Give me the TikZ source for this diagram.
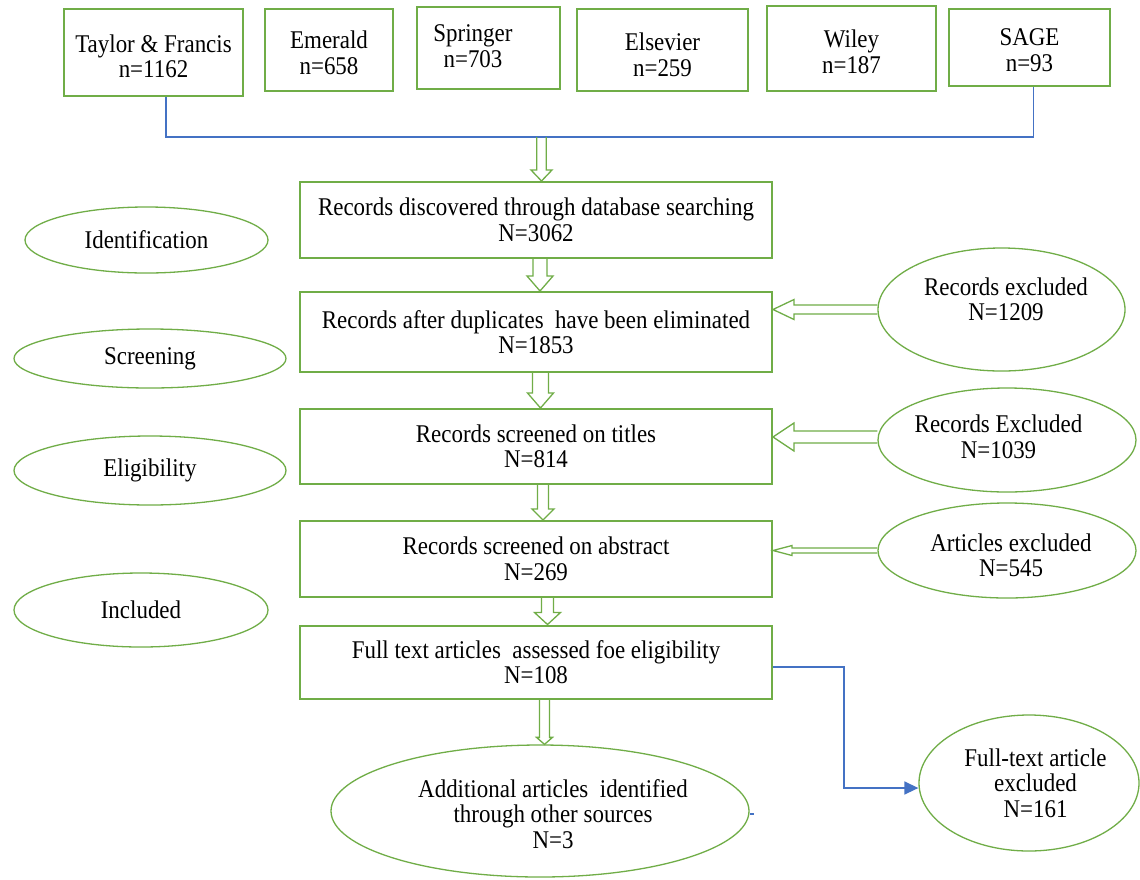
\documentclass[tikz,border=0pt]{standalone}
\usepackage{fontspec}
\setmainfont{Liberation Serif}[FakeStretch=0.9]
\usetikzlibrary{shapes.geometric,arrows.meta,calc}
\definecolor{grn}{HTML}{70AD47}
\definecolor{blu}{HTML}{4472C4}
% vertical block arrow: from, to, xoffset, shaft half width, head half width, head length
\newcommand{\vblk}[6]{%
 \draw[blkarrow] ([xshift=#3-#4]#1) -- ([xshift=#3-#4,yshift=#6]#1 |- #2) -- ([xshift=#3-#5,yshift=#6]#1 |- #2) -- ([xshift=#3]#1 |- #2) -- ([xshift=#3+#5,yshift=#6]#1 |- #2) -- ([xshift=#3+#4,yshift=#6]#1 |- #2) -- ([xshift=#3+#4]#1);}
% horizontal (leftward) block arrow: from ellipse, to box, yoffset, shaft half, head half, head length
\newcommand{\hblk}[6]{%
 \draw[blkarrow] ([yshift=#3+#4]#1.west) -- ([xshift=#6,yshift=#3+#4]#2.east |- #1.west) -- ([xshift=#6,yshift=#3+#5]#2.east |- #1.west) -- ([yshift=#3]#2.east |- #1.west) -- ([xshift=#6,yshift=#3-#5]#2.east |- #1.west) -- ([xshift=#6,yshift=#3-#4]#2.east |- #1.west) -- ([yshift=#3-#4]#1.west);}
\begin{document}
\begin{tikzpicture}[x=1pt,y=-1pt, font=\fontsize{25.5}{25.5}\selectfont,
 pub/.style={draw=grn, line width=2pt, rectangle, inner sep=0pt},
 stage/.style={draw=grn, line width=2pt, inner sep=2pt, minimum width=472pt, align=center},
 oval/.style={draw=grn, line width=1.3pt, ellipse, inner sep=0pt, align=center},
 blkarrow/.style={draw=grn, line width=1.3pt},
 blueline/.style={draw=blu, line width=1.5pt},
 txt/.style={align=center}]
\fill[white] (0,0) rectangle (1140,879);
\useasboundingbox (0,0) rectangle (1140,879);

% publisher boxes
\node[pub, minimum width=179pt, minimum height=87pt, label={[txt,yshift=-4pt]center:Taylor \& Francis\\n=1162}] (tf) at (153.5,52.5) {};
\node[pub, minimum width=128pt, minimum height=82pt, label={[txt,yshift=-3pt]center:Emerald\\n=658}] (em) at (329,50) {};
\node[pub, minimum width=143pt, minimum height=82pt, label={[txt,xshift=-15.5pt,yshift=2pt]center:Springer\\n=703}] (spr) at (488.5,48) {};
\node[pub, minimum width=171pt, minimum height=82pt, label={[txt,yshift=-5pt]center:Elsevier\\n=259}] (els) at (662.5,50) {};
\node[pub, minimum width=169pt, minimum height=85pt, label={[txt,yshift=-3.5pt]center:Wiley\\n=187}] (wil) at (851.5,48.5) {};
\node[pub, minimum width=161pt, minimum height=77pt, label={[txt,yshift=-2.5pt]center:SAGE\\n=93}] (sage) at (1029.5,47.5) {};

% main flow boxes
\node[stage, minimum height=76pt] (b1) at (536,220) {Records discovered through database searching\\N=3062};
\node[stage, minimum height=80pt] (b2) at (536,332) {Records after duplicates\ \ have been eliminated\\N=1853};
\node[stage, minimum height=75pt] (b3) at (536,446.5) {Records screened on titles\\N=814};
\node[stage, minimum height=76pt] (b4) at (536,559) {Records screened on abstract\\N=269};
\node[stage, minimum height=73pt] (b5) at (536,662) {Full text articles\ \ assessed foe eligibility\\N=108};

% stage ovals
\node[oval, minimum width=243pt, minimum height=66pt] (id) at (146.5,240) {Identification};
\node[oval, minimum width=272pt, minimum height=59pt] (scr) at (150,358.5) {Screening};
\node[oval, minimum width=272pt, minimum height=69pt] (elig) at (150,470.5) {Eligibility};
\node[oval, minimum width=254pt, minimum height=74pt] (inc) at (141,610) {Included};

% exclusion ovals
\node[oval, minimum width=247pt, minimum height=123pt, label={[txt,xshift=4.5pt,yshift=10pt]center:Records excluded\\N=1209}] (ex1) at (1001.5,309.5) {};
\node[oval, minimum width=258pt, minimum height=104pt, label={[txt,xshift=-8.5pt,yshift=3pt]center:Records Excluded\\N=1039}] (ex2) at (1007,440) {};
\node[oval, minimum width=258pt, minimum height=95pt, label={[txt,xshift=4pt,yshift=-5pt]center:Articles excluded\\N=545}] (ex3) at (1007,550.5) {};
\node[oval, minimum width=220pt, minimum height=136pt, label={[txt,xshift=6.5pt]center:Full-text article\\excluded\\N=161}] (ft) at (1029,783) {};
\node[oval, minimum width=418pt, minimum height=132pt, label={[txt,xshift=13pt,yshift=-3pt]center:Additional articles\ \ identified\\through other sources\\N=3}] (add) at (540,811) {};

% blue collector line
\coordinate (bl) at (536,137);
\draw[blueline] ([xshift=12.5pt]tf.south) |- ([xshift=4pt]sage.south |- bl) -- ([xshift=4pt]sage.south);

% block arrows down
\vblk{bl}{b1.north}{5.5}{4.75}{10.5}{11}
\vblk{b1.south}{b2.north}{4}{7}{13}{15}
\vblk{b2.south}{b3.north}{4.5}{8}{13}{15}
\vblk{b3.south}{b4.north}{7}{5.5}{11}{11}
\vblk{b4.south}{b5.north}{11.5}{6}{13}{12}
\vblk{b5.south}{add.north}{8.5}{5}{8}{7}

% block arrows left
\hblk{ex1}{b2}{0}{4.5}{10}{21}
\hblk{ex2}{b3}{3}{6}{14}{21}
\hblk{ex3}{b4}{0}{2.5}{5}{19}

% blue elbow to full-text exclusion
\draw[blueline, -{Triangle[length=14pt,width=13pt]}] ([yshift=-5pt]b5.east) -- ++(71,0) |- ([yshift=-5pt]ft.west);
\draw[blueline] ([yshift=-3pt]add.east) -- ++(4,0);
\end{tikzpicture}
\end{document}
